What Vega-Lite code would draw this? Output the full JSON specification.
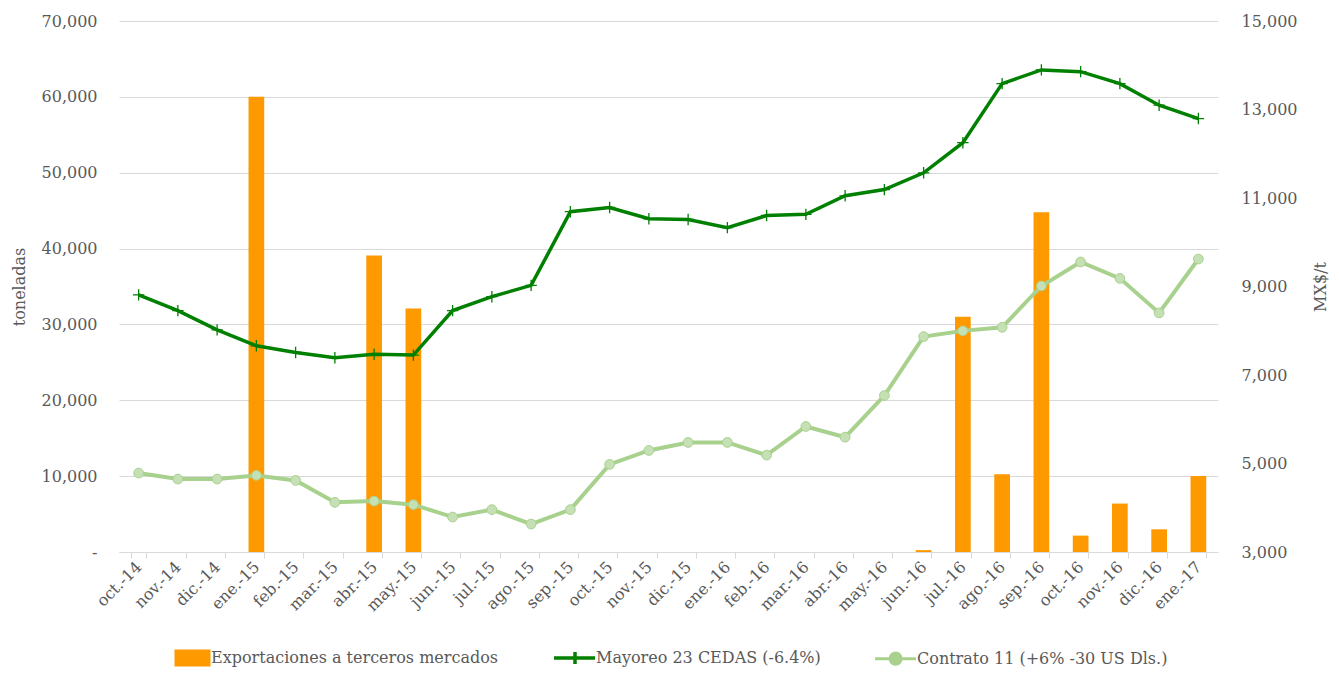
{
  "$schema": "https://vega.github.io/schema/vega-lite/v6.json",
  "width": 1099,
  "height": 531,
  "autosize": {"type": "none"},
  "padding": {"left": 119, "top": 21, "right": 121, "bottom": 123},
  "background": "white",
  "config": {
    "view": {"stroke": null},
    "font": "DejaVu Serif",
    "axis": {
      "labelFont": "DejaVu Serif",
      "labelFontSize": 16,
      "labelColor": "#595959",
      "titleFont": "DejaVu Serif",
      "titleFontSize": 16,
      "titleFontWeight": "normal",
      "titleColor": "#595959"
    }
  },
  "data": {
    "values": [
      {"mes": "oct.-14", "exportaciones": 0, "mayoreo": 8810, "contrato": 4783},
      {"mes": "nov.-14", "exportaciones": 0, "mayoreo": 8455, "contrato": 4648},
      {"mes": "dic.-14", "exportaciones": 0, "mayoreo": 8020, "contrato": 4648},
      {"mes": "ene.-15", "exportaciones": 60000, "mayoreo": 7660, "contrato": 4731},
      {"mes": "feb.-15", "exportaciones": 0, "mayoreo": 7510, "contrato": 4618},
      {"mes": "mar.-15", "exportaciones": 0, "mayoreo": 7390, "contrato": 4122},
      {"mes": "abr.-15", "exportaciones": 39100, "mayoreo": 7470, "contrato": 4151},
      {"mes": "may.-15", "exportaciones": 32100, "mayoreo": 7450, "contrato": 4070},
      {"mes": "jun.-15", "exportaciones": 0, "mayoreo": 8455, "contrato": 3790},
      {"mes": "jul.-15", "exportaciones": 0, "mayoreo": 8770, "contrato": 3957},
      {"mes": "ago.-15", "exportaciones": 0, "mayoreo": 9025, "contrato": 3632},
      {"mes": "sep.-15", "exportaciones": 0, "mayoreo": 10690, "contrato": 3957},
      {"mes": "oct.-15", "exportaciones": 0, "mayoreo": 10785, "contrato": 4979},
      {"mes": "nov.-15", "exportaciones": 0, "mayoreo": 10530, "contrato": 5295},
      {"mes": "dic.-15", "exportaciones": 0, "mayoreo": 10515, "contrato": 5476},
      {"mes": "ene.-16", "exportaciones": 0, "mayoreo": 10330, "contrato": 5476},
      {"mes": "feb.-16", "exportaciones": 0, "mayoreo": 10605, "contrato": 5189},
      {"mes": "mar.-16", "exportaciones": 0, "mayoreo": 10630, "contrato": 5837},
      {"mes": "abr.-16", "exportaciones": 0, "mayoreo": 11050, "contrato": 5595},
      {"mes": "may.-16", "exportaciones": 0, "mayoreo": 11190, "contrato": 6536},
      {"mes": "jun.-16", "exportaciones": 250, "mayoreo": 11570, "contrato": 7868},
      {"mes": "jul.-16", "exportaciones": 31000, "mayoreo": 12250, "contrato": 7997},
      {"mes": "ago.-16", "exportaciones": 10250, "mayoreo": 13585, "contrato": 8078},
      {"mes": "sep.-16", "exportaciones": 44775, "mayoreo": 13895, "contrato": 9012},
      {"mes": "oct.-16", "exportaciones": 2160, "mayoreo": 13855, "contrato": 9554},
      {"mes": "nov.-16", "exportaciones": 6385, "mayoreo": 13585, "contrato": 9184},
      {"mes": "dic.-16", "exportaciones": 2990, "mayoreo": 13097, "contrato": 8403},
      {"mes": "ene.-17", "exportaciones": 10030, "mayoreo": 12795, "contrato": 9621}
    ]
  },
  "encoding": {
    "x": {
      "field": "mes",
      "type": "ordinal",
      "sort": null,
      "scale": {"paddingInner": 0.6, "paddingOuter": 0.3},
      "axis": {
        "title": null,
        "labelAngle": -45,
        "labelAlign": "right",
        "labelBaseline": "middle",
        "labelFontSize": 16,
        "labelPadding": 6,
        "domainColor": "#d9d9d9",
        "tickColor": "#d9d9d9",
        "tickSize": 6,
        "tickBand": "extent",
        "grid": false
      }
    }
  },
  "layer": [
    {
      "mark": {"type": "bar"},
      "encoding": {
        "y": {
          "field": "exportaciones",
          "type": "quantitative",
          "scale": {"domain": [0, 70000], "nice": false},
          "axis": {
            "values": [0, 10000, 20000, 30000, 40000, 50000, 60000, 70000],
            "labelExpr": "datum.value === 0 ? '-' : format(datum.value, ',')",
            "grid": true,
            "gridColor": "#d9d9d9",
            "gridWidth": 1,
            "domain": false,
            "ticks": false,
            "tickSize": 0,
            "labelPadding": 22,
            "title": "toneladas",
            "titlePadding": 14
          }
        },
        "color": {
          "datum": "Exportaciones a terceros mercados",
          "scale": {
            "domain": ["Exportaciones a terceros mercados", "Mayoreo 23 CEDAS (-6.4%)", "Contrato 11 (+6% -30 US Dls.)"],
            "range": ["#FF9900", "#008000", "#A9D18E"]
          },
          "legend": {
            "orient": "none",
            "legendX": 63,
            "legendY": 629,
            "direction": "horizontal",
            "columns": 3,
            "title": null,
            "padding": 0,
            "labelFont": "DejaVu Serif",
            "labelFontSize": 16,
            "labelColor": "#595959",
            "labelLimit": 0,
            "labelOffset": 13,
            "columnPadding": 48,
            "symbolSize": 1600,
            "encode": {
              "symbols": {
                "update": {
                  "shape": {"signal": "datum.value === 'Exportaciones a terceros mercados' ? 'M-0.7,-0.35H0.95V0.35H-0.7Z' : datum.value === 'Mayoreo 23 CEDAS (-6.4%)' ? 'M-1.05,0H1M0,-0.3V0.3' : 'M-1.05,0H-0.3M0.26,0H1M0.26,0A0.28,0.28 0 1,1 -0.3,0A0.28,0.28 0 1,1 0.26,0Z'"},
                  "fill": {"signal": "datum.value === 'Exportaciones a terceros mercados' ? '#FF9900' : datum.value === 'Mayoreo 23 CEDAS (-6.4%)' ? 'transparent' : '#C5E0B4'"},
                  "stroke": {"signal": "datum.value === 'Exportaciones a terceros mercados' ? 'transparent' : datum.value === 'Mayoreo 23 CEDAS (-6.4%)' ? '#008000' : '#A9D18E'"},
                  "strokeWidth": {"signal": "datum.value === 'Mayoreo 23 CEDAS (-6.4%)' ? 3.5 : 3"},
                  "opacity": {"value": 1},
                  "size": {"value": 1600}
                }
              }
            }
          }
        }
      }
    },
    {
      "layer": [
        {
          "mark": {"type": "line", "strokeWidth": 3.5},
          "encoding": {
            "y": {
              "field": "mayoreo",
              "type": "quantitative",
              "scale": {"domain": [3000, 15000], "nice": false},
              "axis": {"orient": "right", "values": [3000, 5000, 7000, 9000, 11000, 13000, 15000], "grid": false, "domain": false, "ticks": false, "tickSize": 0, "labelPadding": 23, "title": "MX$/t", "titleAngle": -90, "titlePadding": 32}
            },
            "color": {"datum": "Mayoreo 23 CEDAS (-6.4%)"}
          }
        },
        {
          "mark": {"type": "point", "shape": "M-1,0H1M0,-1V1", "filled": false, "stroke": "#008000", "strokeWidth": 1.3, "size": 130, "opacity": 1},
          "encoding": {
            "y": {
              "field": "mayoreo",
              "type": "quantitative",
              "scale": {"domain": [3000, 15000], "nice": false},
              "axis": {"orient": "right", "values": [3000, 5000, 7000, 9000, 11000, 13000, 15000], "grid": false, "domain": false, "ticks": false, "tickSize": 0, "labelPadding": 23, "title": "MX$/t", "titleAngle": -90, "titlePadding": 32}
            }
          }
        },
        {
          "mark": {"type": "line", "strokeWidth": 4},
          "encoding": {
            "y": {
              "field": "contrato",
              "type": "quantitative",
              "scale": {"domain": [3000, 15000], "nice": false},
              "axis": {"orient": "right", "values": [3000, 5000, 7000, 9000, 11000, 13000, 15000], "grid": false, "domain": false, "ticks": false, "tickSize": 0, "labelPadding": 23, "title": "MX$/t", "titleAngle": -90, "titlePadding": 32}
            },
            "color": {"datum": "Contrato 11 (+6% -30 US Dls.)"}
          }
        },
        {
          "mark": {"type": "point", "shape": "circle", "filled": true, "fill": "#C5E0B4", "stroke": "#A9D18E", "strokeWidth": 1, "size": 95, "opacity": 1},
          "encoding": {
            "y": {
              "field": "contrato",
              "type": "quantitative",
              "scale": {"domain": [3000, 15000], "nice": false},
              "axis": {"orient": "right", "values": [3000, 5000, 7000, 9000, 11000, 13000, 15000], "grid": false, "domain": false, "ticks": false, "tickSize": 0, "labelPadding": 23, "title": "MX$/t", "titleAngle": -90, "titlePadding": 32}
            }
          }
        }
      ]
    }
  ],
  "resolve": {"scale": {"y": "independent"}}
}
